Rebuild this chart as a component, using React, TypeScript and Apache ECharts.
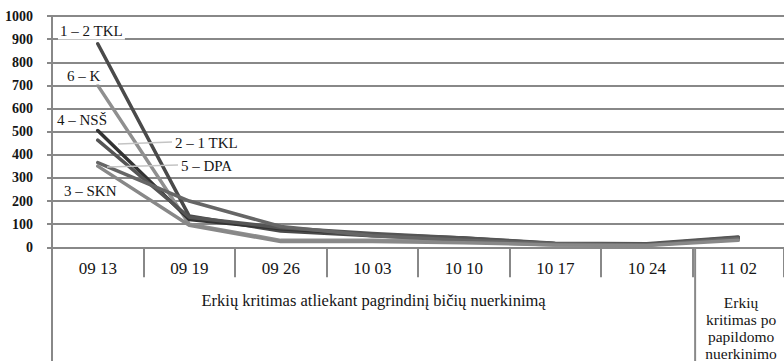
import React, { useEffect, useRef } from "react";
import * as echarts from "echarts";

const categories = ["09 13", "09 19", "09 26", "10 03", "10 10", "10 17", "10 24", "11 02"];
const seriesNames = ["1 – 2 TKL", "6 – K", "4 – NSŠ", "2 – 1 TKL", "5 – DPA", "3 – SKN"];
const tkl12 = [880, 135, 70, 50, 35, 15, 12, 40];
const k6 = [700, 100, 30, 30, 25, 10, 10, 35];
const nss4 = [505, 120, 80, 55, 40, 15, 12, 42];
const tkl21 = [463, 130, 85, 60, 40, 18, 15, 45];
const dpa5 = [366, 200, 90, 50, 30, 15, 10, 38];
const skn3 = [351, 95, 25, 25, 20, 10, 8, 30];
const seriesValues = [tkl12, k6, nss4, tkl21, dpa5, skn3];
const seriesColors = ["#4a4a4a", "#8f8f8f", "#333333", "#555555", "#666666", "#888888"];
const yMin = 0;
const yMax = 1000;
const yStep = 100;
const mainGroupLabel = "Erkių kritimas atliekant pagrindinį bičių nuerkinimą";
const extraGroupLabel = ["Erkių", "kritimas po", "papildomo", "nuerkinimo"];

const FONT = "Liberation Serif";

export default function App() {
  const ref = useRef<HTMLDivElement>(null);
  useEffect(() => {
    document.body.style.margin = "0";
    const chart = echarts.init(ref.current as HTMLDivElement, null, { renderer: "svg" });
    const gridLeft = 52;
    const gridTop = 16;
    const gridBottomY = 247.3;
    const width = 784;
    const gridRight = -3;
    const plotW = width - gridLeft - gridRight;
    const catW = plotW / categories.length;
    const sepX = gridLeft + catW * (categories.length - 1);
    const txt = (text: string, x: number, y: number, align = "left", bg = true, size = 15) => ({
      type: "text",
      z: 100,
      style: {
        text,
        x,
        y,
        fontSize: size,
        fontFamily: FONT,
        fill: "#151515",
        align,
        verticalAlign: "middle",
        backgroundColor: bg ? "#ffffff" : undefined,
        padding: bg ? [1, 2] : 0,
      },
    });
    const graphic: any[] = [
      { type: "line", z: 50, shape: { x1: gridLeft, y1: gridBottomY, x2: gridLeft, y2: 361 }, style: { stroke: "#888", lineWidth: 2 } },
      { type: "line", z: 50, shape: { x1: sepX, y1: gridBottomY, x2: sepX, y2: 361 }, style: { stroke: "#888", lineWidth: 2 } },
      txt(mainGroupLabel, (gridLeft + sepX) / 2, 300, "center", false, 16.5),
      ...extraGroupLabel.map((t, i) => txt(t, sepX + catW / 2, 302 + i * 17, "center", false, 15.5)),
      { type: "line", z: 90, shape: { x1: 118, y1: 144, x2: 172, y2: 142 }, style: { stroke: "#c4c4c4", lineWidth: 1.5 } },
      { type: "line", z: 90, shape: { x1: 107, y1: 167, x2: 178, y2: 165 }, style: { stroke: "#c4c4c4", lineWidth: 1.5 } },
      txt(seriesNames[0], 58, 31),
      txt(seriesNames[1], 65, 76),
      txt(seriesNames[2], 55, 120),
      txt(seriesNames[3], 173, 143),
      txt(seriesNames[4], 179, 166),
      txt(seriesNames[5], 62, 191),
    ];
    chart.setOption({
      animation: false,
      grid: { left: gridLeft, right: gridRight, top: gridTop, bottom: 361 - gridBottomY, containLabel: false },
      xAxis: {
        type: "category",
        data: categories,
        boundaryGap: true,
        axisLine: { show: true, lineStyle: { color: "#888", width: 2 } },
        axisTick: { show: true, length: 30, interval: 0, lineStyle: { color: "#888", width: 2 } },
        axisLabel: { margin: 13, fontSize: 17, color: "#151515", fontFamily: FONT, interval: 0 },
        splitLine: { show: false },
      },
      yAxis: {
        type: "value",
        min: yMin,
        max: yMax,
        interval: yStep,
        axisLine: { show: true, lineStyle: { color: "#888", width: 2 } },
        axisTick: { show: true, length: 5, lineStyle: { color: "#888", width: 2 } },
        axisLabel: {
          margin: 19,
          fontSize: 14,
          fontWeight: "bold",
          color: "#151515",
          fontFamily: FONT,
          formatter: (v: number) => String(v),
        },
        splitLine: { show: true, lineStyle: { color: "#888", width: 2 } },
      },
      series: seriesNames.map((name, i) => ({
        name,
        type: "line",
        data: seriesValues[i],
        symbol: "none",
        smooth: false,
        lineStyle: { color: seriesColors[i], width: 3.5, cap: "round", join: "round" },
        z: 10 + i,
      })),
      graphic,
    });
    return () => chart.dispose();
  }, []);
  return <div ref={ref} style={{ width: 784, height: 361 }} />;
}
